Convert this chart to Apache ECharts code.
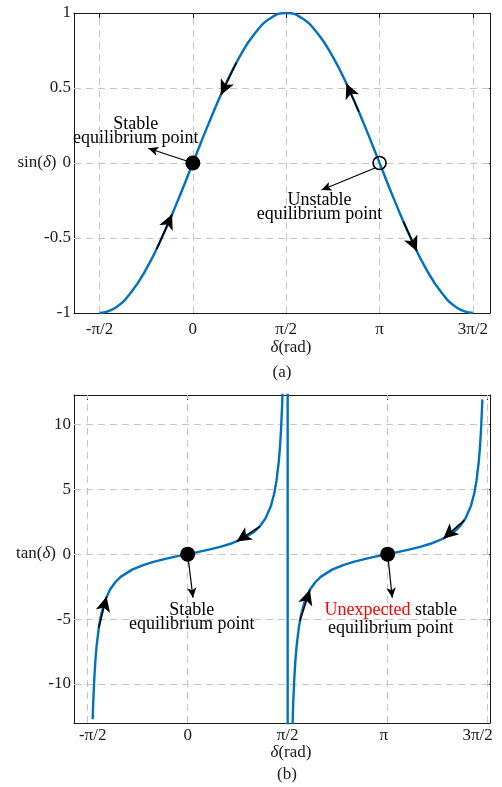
<!DOCTYPE html>
<html lang="en">
<head>
    <meta charset="UTF-8">
    <title>sin / tan equilibrium</title>
    <script src="https://cdn.jsdelivr.net/npm/echarts/dist/echarts.min.js"></script>
    <style>
        body { margin: 0; padding: 0; background: #fff; }
        #chart { width: 502px; height: 787px; }
    </style>
</head>
<body>
<div id="chart"></div>
<script>
    // x in degrees, shown as multiples of pi/2
    var xTickDeg = [-90, 0, 90, 180, 270];
    var xTickText = ['-π/2', '0', 'π/2', 'π', '3π/2'];
    var sinTicks = [-1, -0.5, 0, 0.5, 1];
    var tanTicks = [-10, -5, 0, 5, 10];

    // (a) sin curve
    var sinDeg = [-90, -75, -60, -45, -30, -15, 0, 15, 30, 45, 60, 75, 90, 105, 120, 135, 150, 165, 180, 195, 210, 225, 240, 255, 270];
    var sinVal = [-1, -0.966, -0.866, -0.707, -0.5, -0.259, 0, 0.259, 0.5, 0.707, 0.866, 0.966, 1, 0.966, 0.866, 0.707, 0.5, 0.259, 0, -0.259, -0.5, -0.707, -0.866, -0.966, -1];

    // (b) tan curve, the jump at pi/2 is kept as one drawn line like the original
    var tanDeg = [-85.5, -85, -84, -83, -82, -80, -78, -75, -70, -65, -60, -50, -40, -30, -20, -10, 0, 10, 20, 30, 40, 50, 60, 65, 70, 75, 78, 80, 82, 83, 84, 85, 86, 87, 88, 89.9,
        90.1, 92, 93, 94, 95, 96, 97, 98, 100, 102, 105, 110, 115, 120, 130, 140, 150, 160, 170, 180, 190, 200, 210, 220, 230, 240, 245, 250, 255, 258, 260, 262, 263, 264, 265, 265.2];
    var tanVal = [-12.71, -11.43, -9.514, -8.144, -7.115, -5.671, -4.705, -3.732, -2.747, -2.145, -1.732, -1.192, -0.839, -0.577, -0.364, -0.176, 0, 0.176, 0.364, 0.577, 0.839, 1.192, 1.732, 2.145, 2.747, 3.732, 4.705, 5.671, 7.115, 8.144, 9.514, 11.43, 14.3, 19.08, 28.64, 573,
        -573, -28.64, -19.08, -14.3, -11.43, -9.514, -8.144, -7.115, -5.671, -4.705, -3.732, -2.747, -2.145, -1.732, -1.192, -0.839, -0.577, -0.364, -0.176, 0, 0.176, 0.364, 0.577, 0.839, 1.192, 1.732, 2.145, 2.747, 3.732, 4.705, 5.671, 7.115, 8.144, 9.514, 11.43, 11.91];

    // direction arrows drawn on the curves: [from], [to]
    var sinArrowFrom = [[-35, -0.574], [42, 0.669], [160, 0.342], [203, -0.391]];
    var sinArrowTo = [[-20, -0.342], [27, 0.454], [148, 0.53], [216, -0.588]];
    var tanArrowFrom = [[-80, -5.67], [65, 2.14], [101, -5.14], [249, 2.605]];
    var tanArrowTo = [[-73, -3.27], [44, 0.966], [110, -2.75], [230, 1.19]];

    // equilibrium points and note arrows
    var sinStable = [[0, 0]];
    var sinUnstable = [[180, 0]];
    var tanStable = [[0, 0], [180, 0]];
    var sinNoteFrom = [[0, 0], [175.6, -0.033]];
    var sinNoteTo = [[-43, 0.098], [124, -0.18]];
    var tanNoteFrom = [[0, 0], [180, 0]];
    var tanNoteTo = [[4.8, -3.36], [184.1, -3.36]];

    var FONT = "'Liberation Serif', 'Times New Roman', serif";
    var INK = '#1a1a1a';
    var BLUE = '#0072BD';

    var chart = echarts.init(document.getElementById('chart'));

    function pairs(from, to) {
        return from.map(function (p, i) {
            return [{ coord: p }, { coord: to[i] }];
        });
    }

    function gridLines(yTicks) {
        return xTickDeg.map(function (v) { return { xAxis: v }; })
            .concat(yTicks.map(function (v) { return { yAxis: v }; }));
    }

    function xAxisCfg(gridIndex, min, max, margin) {
        return {
            type: 'value', gridIndex: gridIndex, min: min, max: max,
            axisLine: { show: true, onZero: false, lineStyle: { color: INK, width: 1 } },
            axisTick: { show: true, inside: true, length: 5, customValues: xTickDeg, lineStyle: { color: INK } },
            splitLine: { show: false },
            axisLabel: {
                customValues: xTickDeg, margin: margin,
                color: INK, fontSize: 17, fontFamily: FONT,
                formatter: function (v) {
                    return xTickText[xTickDeg.indexOf(v)] || '';
                }
            }
        };
    }

    function topAxisCfg(gridIndex, min, max) {
        return {
            type: 'value', gridIndex: gridIndex, min: min, max: max, position: 'top',
            axisLine: { show: true, onZero: false, lineStyle: { color: INK, width: 1 } },
            axisTick: { show: true, inside: true, length: 5, customValues: xTickDeg, lineStyle: { color: INK } },
            axisLabel: { show: false }, splitLine: { show: false }
        };
    }

    function yAxisCfg(gridIndex, min, max, ticks, right) {
        return {
            type: 'value', gridIndex: gridIndex, min: min, max: max, position: right ? 'right' : 'left',
            axisLine: { show: true, onZero: false, lineStyle: { color: INK, width: 1 } },
            axisTick: { show: true, inside: true, length: 5, customValues: ticks, lineStyle: { color: INK } },
            splitLine: { show: false },
            axisLabel: {
                show: !right, customValues: ticks, margin: 3,
                color: INK, fontSize: 17, fontFamily: FONT
            }
        };
    }

    // bottom plot labels sit a bit off their ticks in the original
    var xBottom = xAxisCfg(1, -102.3, 272.1, 4);
    xBottom.axisLabel.formatter = function (v) {
        var t = xTickText[xTickDeg.indexOf(v)] || '';
        if (t === '-π/2') return '{l|' + t + '}';
        if (t === 'π') return '{r8|' + t + '}';
        if (t === '3π/2') return '{r20|' + t + '}';
        return t;
    };
    xBottom.axisLabel.rich = {
        l: { fontSize: 17, fontFamily: FONT, color: INK, padding: [0, 0, 0, 10] },
        r8: { fontSize: 17, fontFamily: FONT, color: INK, padding: [0, 8, 0, 0] },
        r20: { fontSize: 17, fontFamily: FONT, color: INK, padding: [0, 20, 0, 0] }
    };

    var gridStyle = { color: '#c6c6c6', type: [7, 5], width: 1 };
    var noteText = { show: true, position: 'inside', color: '#000', fontSize: 18, fontFamily: FONT, lineHeight: 14, textBorderWidth: 0 };
    var italic = { i: { fontStyle: 'italic', fontSize: 17, fontFamily: FONT } };

    function textAt(x, y, s) {
        return { type: 'text', x: x, y: y, style: { text: s, font: '17px ' + FONT, fill: INK, align: 'center', verticalAlign: 'middle', rich: italic } };
    }

    function arrowLines(xi, from, to, size, width) {
        return { type: 'line', xAxisIndex: xi, yAxisIndex: xi, data: [], z: 3,
            markLine: { z: 6, symbol: ['none', 'arrow'], symbolSize: size, silent: true, label: { show: false },
                lineStyle: { color: '#000', type: 'solid', width: width }, data: pairs(from, to) } };
    }

    var option = {
        animation: false,
        grid: [
            { left: 74, top: 13, width: 416, height: 300 },
            { left: 74, top: 395, width: 416, height: 328 }
        ],
        xAxis: [
            xAxisCfg(0, -114.59, 286.48, 8),
            topAxisCfg(0, -114.59, 286.48),
            xBottom,
            topAxisCfg(1, -102.3, 272.1)
        ],
        yAxis: [
            yAxisCfg(0, -1, 1, sinTicks, false),
            yAxisCfg(0, -1, 1, sinTicks, true),
            yAxisCfg(1, -13, 12.25, tanTicks, false),
            yAxisCfg(1, -13, 12.25, tanTicks, true)
        ],
        graphic: [
            textAt(37, 163, 'sin({i|δ})'),
            textAt(291, 348, '{i|δ}(rad)'),
            textAt(282, 373, '(a)'),
            textAt(36, 554, 'tan({i|δ})'),
            textAt(291, 753, '{i|δ}(rad)'),
            textAt(287, 775, '(b)')
        ],
        series: [
            // dashed grids, kept under the curves
            { type: 'line', xAxisIndex: 0, yAxisIndex: 0, data: [], z: 1, silent: true,
              markLine: { z: 1, symbol: 'none', silent: true, label: { show: false }, lineStyle: gridStyle, data: gridLines([-0.5, 0, 0.5]) } },
            { type: 'line', xAxisIndex: 2, yAxisIndex: 2, data: [], z: 1, silent: true,
              markLine: { z: 1, symbol: 'none', silent: true, label: { show: false }, lineStyle: gridStyle, data: gridLines(tanTicks) } },

            // curves
            { type: 'line', xAxisIndex: 0, yAxisIndex: 0, z: 2, smooth: 0.5, showSymbol: false, clip: true,
              lineStyle: { color: BLUE, width: 2.4 },
              data: sinDeg.map(function (d, i) { return [d, sinVal[i]]; }) },
            { type: 'line', xAxisIndex: 2, yAxisIndex: 2, z: 2, showSymbol: false, clip: true,
              lineStyle: { color: BLUE, width: 2.4 },
              data: tanDeg.map(function (d, i) { return [d, tanVal[i]]; }) },

            // flow arrows on curves and note arrows
            arrowLines(0, sinArrowFrom, sinArrowTo, [11, 15], 1.6),
            arrowLines(2, tanArrowFrom, tanArrowTo, [11, 15], 1.6),
            arrowLines(0, sinNoteFrom, sinNoteTo, [7, 10], 1.2),
            arrowLines(2, tanNoteFrom, tanNoteTo, [7, 10], 1.2),

            // equilibrium points
            { type: 'scatter', xAxisIndex: 0, yAxisIndex: 0, z: 8, symbolSize: 15, itemStyle: { color: '#000', opacity: 1 }, data: sinStable },
            { type: 'scatter', xAxisIndex: 0, yAxisIndex: 0, z: 8, symbolSize: 13,
              itemStyle: { color: 'rgba(0,0,0,0)', opacity: 1, borderColor: '#000', borderWidth: 1.6 }, data: sinUnstable },
            { type: 'scatter', xAxisIndex: 2, yAxisIndex: 2, z: 8, symbolSize: 15, itemStyle: { color: '#000', opacity: 1 }, data: tanStable },

            // notes
            { type: 'scatter', xAxisIndex: 0, yAxisIndex: 0, z: 9, symbolSize: 1, silent: true,
              itemStyle: { color: 'rgba(0,0,0,0)', opacity: 1 }, label: noteText,
              data: [
                  { value: [-55, 0.21], label: { formatter: 'Stable\nequilibrium point' } },
                  { value: [122, -0.293], label: { formatter: 'Unstable\nequilibrium point' } }
              ] },
            { type: 'scatter', xAxisIndex: 2, yAxisIndex: 2, z: 9, symbolSize: 1, silent: true,
              itemStyle: { color: 'rgba(0,0,0,0)', opacity: 1 }, label: noteText,
              data: [
                  { value: [3.6, -4.89], label: { formatter: 'Stable\nequilibrium point' } },
                  { value: [182.7, -4.99], label: {
                      lineHeight: 18,
                      formatter: '{r|Unexpected} stable\nequilibrium point',
                      rich: { r: { color: '#ff0000', fontSize: 18, fontFamily: FONT, lineHeight: 18 } }
                  } }
              ] }
        ]
    };

    chart.setOption(option);
</script>
</body>
</html>
